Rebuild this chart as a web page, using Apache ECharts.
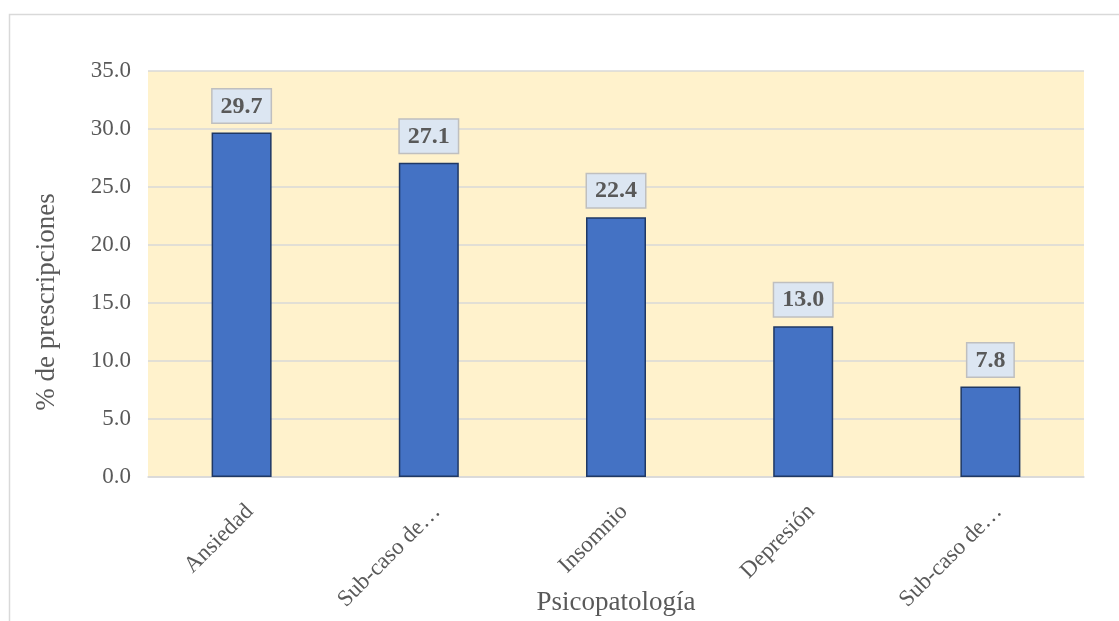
<!DOCTYPE html>
<html>
<head>
<meta charset="utf-8">
<script src="https://cdn.jsdelivr.net/npm/echarts@6/dist/echarts.min.js"></script>
<style>
html,body{margin:0;padding:0;background:#fff;}
#chart{width:1119px;height:621px;}
</style>
</head>
<body>
<div id="chart"></div>
<script>
var categories = ['Ansiedad', 'Sub-caso de…', 'Insomnio', 'Depresión', 'Sub-caso de…'];
var values = [29.7, 27.1, 22.4, 13.0, 7.8];
var yTicks = { min: 0, max: 35, interval: 5 };
var xTitle = 'Psicopatología';
var yTitle = '% de prescripciones';

var FONT = '"Liberation Serif", "Times New Roman", serif';
var chart = echarts.init(document.getElementById('chart'));
chart.setOption({
  animation: false,
  backgroundColor: '#ffffff',
  graphic: [
    { type: 'rect', left: 7, top: 12, silent: true, z: -10,
      shape: { width: 1300, height: 800 },
      style: { fill: 'none', stroke: '#d9d9d9', lineWidth: 1.5 } },
    { type: 'text', x: 47, y: 302, rotation: Math.PI / 2,
      style: { text: yTitle, fill: '#595959', font: '27px ' + FONT,
               align: 'center', verticalAlign: 'middle' } }
  ],
  grid: { left: 148, right: 35, top: 71, bottom: 144, show: true,
          outerBoundsMode: 'none', containLabel: false,
          backgroundColor: '#fff2cc', borderWidth: 0 },
  xAxis: {
    type: 'category', data: categories,
    name: xTitle, nameLocation: 'middle', nameGap: 112, nameMoveOverlap: false,
    nameTextStyle: { fontFamily: FONT, fontSize: 27, color: '#595959' },
    axisLine: { show: true, lineStyle: { color: '#d9d9d9', width: 1.5 } },
    axisTick: { show: false },
    axisLabel: { rotate: 45, interval: 0, margin: 23, verticalAlign: 'top',
                 fontFamily: FONT, fontSize: 23, color: '#595959' }
  },
  yAxis: {
    type: 'value', min: yTicks.min, max: yTicks.max, interval: yTicks.interval,
    axisLine: { show: false }, axisTick: { show: false },
    splitLine: { lineStyle: { color: '#d9d9d9', width: 1.5 } },
    axisLabel: { margin: 17, fontFamily: FONT, fontSize: 23, color: '#595959',
                 formatter: function (v) { return v.toFixed(1); } }
  },
  series: [{
    type: 'bar', data: values, barWidth: 60,
    itemStyle: { color: '#4472c4', borderColor: '#1f3864', borderWidth: 1.5 },
    label: {
      show: true, position: 'top', distance: 10,
      formatter: function (p) { return p.value.toFixed(1); },
      fontFamily: FONT, fontSize: 24, fontWeight: 'bold', color: '#595959',
      backgroundColor: '#dce6f2', borderColor: '#bfbfbf', borderWidth: 1.5,
      padding: [5, 8, 4, 8]
    }
  }]
});
</script>
</body>
</html>
